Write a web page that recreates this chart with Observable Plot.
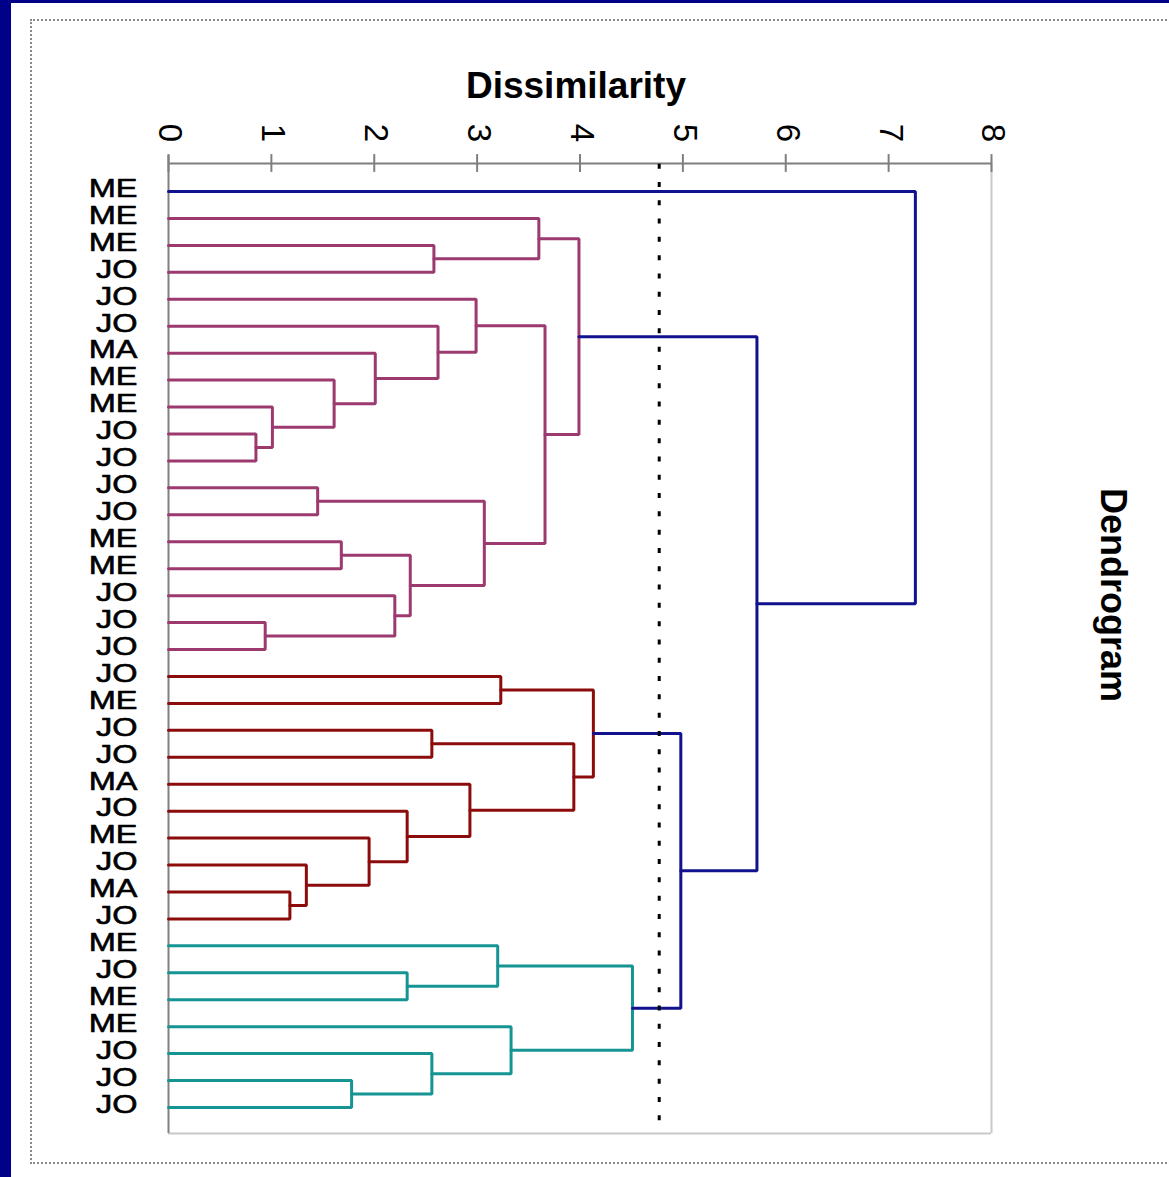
<!DOCTYPE html>
<html><head><meta charset="utf-8">
<script src="https://cdn.jsdelivr.net/npm/d3@7"></script>
<script src="https://cdn.jsdelivr.net/npm/@observablehq/plot@0.6"></script>
<style>
html,body{margin:0;padding:0;width:1169px;height:1177px;overflow:hidden;background:#000088;}
#panel{position:absolute;left:11px;top:3px;width:1158px;height:1174px;background:#fff;}
#dots{position:absolute;left:30px;top:19px;width:1160px;height:1145px;border:2px dotted #8a8a8a;box-sizing:border-box;}
#chart{position:absolute;left:0;top:0;}
</style></head><body>
<div id="panel"></div><div id="dots"></div><div id="chart"></div>
<script>
// Leaf labels, top to bottom
const leafLabels = ["ME","ME","ME","JO","JO","JO","MA","ME","ME","JO","JO","JO","JO","ME","ME","JO","JO","JO",
                    "JO","ME","JO","JO","MA","JO","ME","JO","MA","JO",
                    "ME","JO","ME","ME","JO","JO","JO"];
// Linkage: node (35 + k) joins mergeLeft[k] and mergeRight[k] at mergeHeight[k]
const mergeLeft   = [2, 1, 9, 8, 7, 6, 5, 4, 11, 16, 15, 13, 46, 43, 42, 36,
                     18, 20, 26, 25, 24, 23, 22, 52, 51,
                     29, 28, 33, 32, 31, 61,
                     59, 50, 0];
const mergeRight  = [3, 35, 10, 37, 38, 39, 40, 41, 12, 17, 44, 14, 45, 47, 48, 49,
                     19, 21, 27, 53, 54, 55, 56, 57, 58,
                     30, 60, 34, 62, 63, 64,
                     65, 66, 67];
const mergeHeight = [2.58, 3.60, 0.85, 1.01, 1.61, 2.01, 2.62, 2.99, 1.45, 0.94, 2.20, 1.68, 2.35, 3.07, 3.66, 3.99,
                     3.23, 2.56, 1.18, 1.34, 1.95, 2.32, 2.93, 3.94, 4.13,
                     2.32, 3.20, 1.78, 2.56, 3.33, 4.51,
                     4.98, 5.72, 7.26];
const mergeGroup  = ["P","P","P","P","P","P","P","P","P","P","P","P","P","P","P","P",
                     "R","R","R","R","R","R","R","R","R",
                     "T","T","T","T","T","T",
                     "B","B","B"];
const cutLevel = 4.77;
const xTicks = [0, 1, 2, 3, 4, 5, 6, 7, 8];
const groupNames  = ["B", "P", "R", "T"];
const groupColors = ["#12128e", "#9c3a70", "#8c0c0c", "#169494"];

// Build dendrogram elbows from the linkage
const n = leafLabels.length;
const posX = leafLabels.map(() => 0), posY = leafLabels.map((_, i) => i);
const segs = [];
mergeLeft.forEach((a, k) => {
  const b = mergeRight[k], h = mergeHeight[k], id = n + k, g = mergeGroup[k];
  posX[id] = h; posY[id] = (posY[a] + posY[b]) / 2;
  segs.push({node: id, g, x: posX[a], y: posY[a]}, {node: id, g, x: h, y: posY[a]},
            {node: id, g, x: h, y: posY[b]}, {node: id, g, x: posX[b], y: posY[b]});
});

const yDomain = [-1.04, n - 1 + 0.965];
const plot = Plot.plot({
  width: 1169, height: 1177,
  marginLeft: 168, marginRight: 178, marginTop: 163, marginBottom: 44,
  style: {background: "transparent", overflow: "visible"},
  x: {domain: [0, 8], axis: null},
  y: {domain: yDomain, reverse: true, axis: null},
  color: {domain: groupNames, range: groupColors},
  marks: [
    Plot.ruleY([yDomain[1]], {x1: 0, x2: 8, stroke: "#c8c8c8", strokeWidth: 2}),
    Plot.ruleX([8], {y1: yDomain[0], y2: yDomain[1], stroke: "#c8c8c8", strokeWidth: 2}),
    Plot.ruleY([yDomain[0]], {x1: 0, x2: 8, stroke: "#7f7f7f", strokeWidth: 2}),
    Plot.ruleX([0], {y1: yDomain[0] - 0.3, y2: yDomain[1], stroke: "#808080", strokeWidth: 2}),
    Plot.ruleX(xTicks, {x: d => d, y1: yDomain[0] - 0.33, y2: yDomain[0] + 0.33, stroke: "#7f7f7f", strokeWidth: 2}),
    Plot.text(xTicks, {x: d => d, text: d => String(d), frameAnchor: "top", dy: -21.5, dx: 1.5, rotate: 90,
      textAnchor: "end", lineAnchor: "middle", fontSize: 33, fontFamily: "Liberation Sans, Arial, sans-serif", fill: "#000"}),
    Plot.line(segs, {x: "x", y: "y", z: "node", stroke: "g", strokeWidth: 3, strokeLinejoin: "miter"}),
    Plot.ruleX([cutLevel], {y1: -1.25, y2: 34.6, stroke: "#000", strokeWidth: 3, strokeDasharray: "5,13.3", strokeDashoffset: 12}),
    Plot.text(leafLabels, {x: 0, y: (d, i) => i, text: d => d, dx: -31, dy: -3, textAnchor: "end", lineAnchor: "middle",
      fontSize: 26, fontFamily: "Liberation Sans, Arial, sans-serif", fill: "#000", stroke: "#000", strokeWidth: 0.6})
  ]
});
document.getElementById("chart").appendChild(plot);

// widen the leaf labels like the original bitmap font
const textGroups = plot.querySelectorAll("g[aria-label='text']");
const leafGroup = textGroups[textGroups.length - 1];
leafGroup.querySelectorAll("text").forEach(el => {
  const w = el.getComputedTextLength();
  el.setAttribute("textLength", (w * 1.25).toFixed(1));
  el.setAttribute("lengthAdjust", "spacingAndGlyphs");
});

const svg = d3.select(plot);
svg.append("text").attr("x", 576).attr("y", 98).attr("text-anchor", "middle")
  .attr("font-family", "Liberation Sans, Arial, sans-serif").attr("font-weight", "bold").attr("font-size", 37)
  .attr("fill", "#000").text("Dissimilarity");
svg.append("text").attr("transform", "translate(1100.5,595) rotate(90)").attr("text-anchor", "middle")
  .attr("font-family", "Liberation Sans, Arial, sans-serif").attr("font-weight", "bold").attr("font-size", 36)
  .attr("fill", "#000").text("Dendrogram");
</script>
</body></html>
